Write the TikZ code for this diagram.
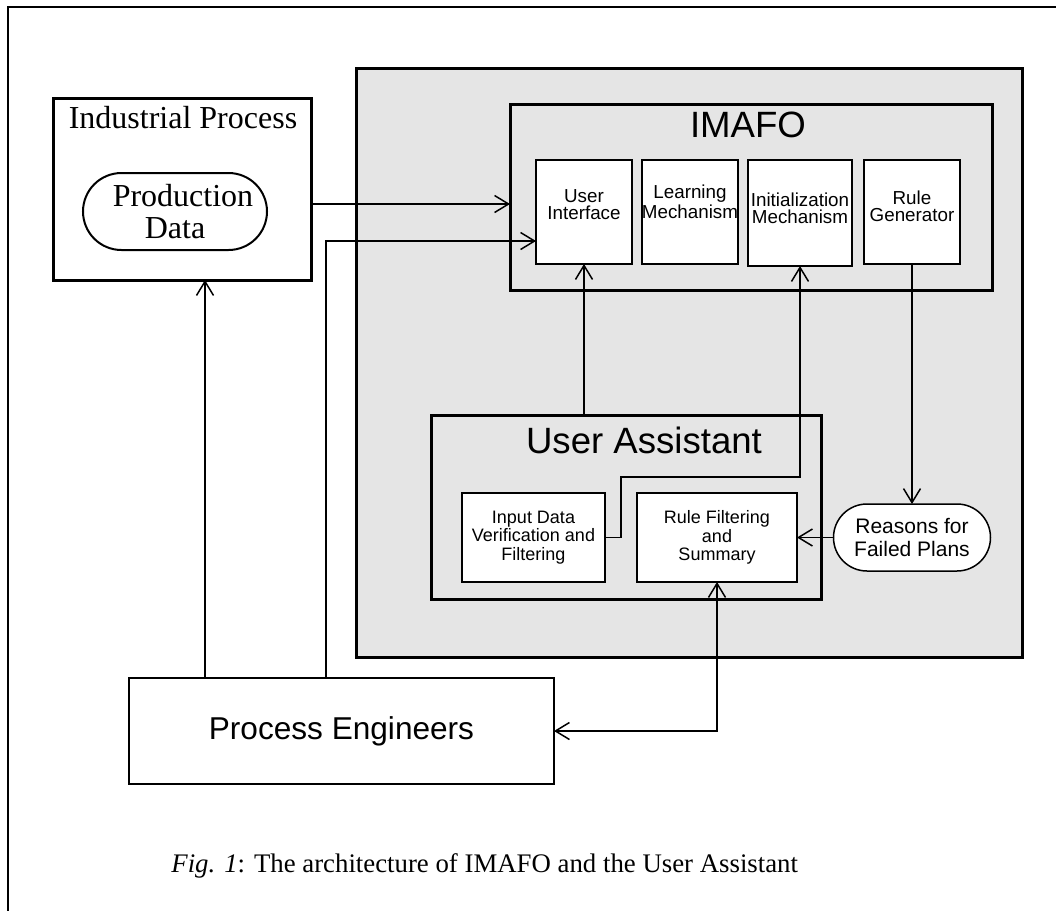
\documentclass[tikz,border=0pt]{standalone}
\usepackage{fontspec}
\setmainfont{Liberation Serif}
\setsansfont{Liberation Sans}
\usetikzlibrary{arrows.meta,shapes.misc}
\newcommand{\Unit}{0.5pt}
\newcommand{\Thick}{1.5pt}
\newcommand{\Thin}{0.75pt}
\definecolor{panel}{HTML}{E5E5E5}
\definecolor{ink}{HTML}{000000}

\tikzset{
  sz/.style 2 args={minimum width=#1*\Unit, minimum height=#2*\Unit},
  thickbox/.style={draw=ink, line width=\Thick, inner sep=0pt, outer sep=0pt},
  modbox/.style={draw=ink, fill=white, line width=\Thin, inner sep=0pt, outer sep=0pt},
  pill/.style={rounded rectangle, draw=ink, fill=white, inner sep=0pt, outer sep=0pt},
  modtxt/.style={font=\sffamily\fontsize{9.4}{8.4}\selectfont, align=center, inner sep=0pt},
  subtxt/.style={font=\sffamily\fontsize{9}{9.3}\selectfont, align=center, inner sep=0pt},
  bigtxt/.style={font=\sffamily\fontsize{18.3}{20}\selectfont, inner sep=0pt},
  flow/.style={ink, line width=\Thin, -{Straight Barb[length=7pt,width=8.5pt]}},
  twoway/.style={ink, line width=\Thin, {Straight Barb[length=7pt,width=8.5pt]}-{Straight Barb[length=7pt,width=8.5pt]}},
}

\begin{document}
\begin{tikzpicture}[x=\Unit, y=-\Unit, line join=miter]

  \useasboundingbox (0,0) rectangle (1056,911);
  % ---- page frame (cut off at right and bottom) ----------------------------
  \draw[ink, line width=1pt] (8,911) -- (8,7) -- (1056,7);

  % ---- industrial process ---------------------------------------------------
  \node[thickbox, sz={258}{182}] (industrial) at (182,189) {};
  \node[font=\fontsize{16}{16}\selectfont, inner sep=0pt] (indtitle) at (183,118) {Industrial Process};
  \node[pill, line width=1pt, sz={184}{77}, align=center,
        font=\fontsize{16}{16}\selectfont] (proddata) at (175,211.5) {\hspace*{8pt}Production\\Data};

  % ---- the shaded system ----------------------------------------------------
  \node[thickbox, fill=panel, sz={666}{589}] (system) at (689,362.5) {};

  % IMAFO and its four modules
  \node[thickbox, sz={482}{186}] (imafo) at (751,197) {};
  \node[bigtxt] (imafotitle) at (748,125) {IMAFO};
  \node[modbox, sz={96}{104}]  (ui)   at (584,212) {};
  \node[modbox, sz={96}{104}]  (lm)   at (690,212) {};
  \node[modbox, sz={104}{106}] (init) at (800,213) {};
  \node[modbox, sz={96}{104}]  (rg)   at (912,212) {};
  \node[modtxt] at (584,205) {User\\Interface};
  \node[modtxt] at (690,202) {Learning\\Mechanism};
  \node[modtxt] at (800,208) {Initialization\\Mechanism};
  \node[modtxt] at (912,206) {Rule\\Generator};

  % User Assistant
  \node[thickbox, sz={390}{184}] (ua) at (626,507) {};
  \node[bigtxt] (uatitle) at (644,440) {User Assistant};
  \node[modbox, sz={143}{89}, subtxt] (inp) at (533.5,537.5) {Input Data\\Verification and\\Filtering};
  \node[modbox, sz={160}{89}, subtxt] (rfs) at (717,537.5) {Rule Filtering\\and\\Summary};

  \node[pill, line width=\Thin, sz={157}{67}, align=center,
        font=\sffamily\fontsize{10.5}{11.5}\selectfont] (reasons) at (912,537.5) {Reasons for\\Failed Plans};

  % ---- process engineers ----------------------------------------------------
  \node[modbox, sz={425}{106}, font=\sffamily\fontsize{15.8}{16}\selectfont] (eng) at (341.5,731) {Process Engineers};

  % ---- connectors -----------------------------------------------------------
  \draw[flow] (industrial.east |- 0,204) -- (imafo.west |- 0,204);
  \draw[flow] (eng.north -| 326,0) |- (ui.west |- 0,241);
  \draw[flow] (eng.north -| 205,0) -- (industrial.south -| 205,0);
  \draw[flow] (ua.north -| ui.south) -- (ui.south);
  \draw[flow] (inp.east) -| (621,477) -| (init.south);
  \draw[flow] (rg.south) -- (reasons.north);
  \draw[flow] (reasons.west) -- (rfs.east);
  \draw[twoway] (rfs.south) |- (eng.east);

  % ---- caption --------------------------------------------------------------
  \node[anchor=west, inner sep=0pt, font=\fontsize{13.4}{14}\selectfont] (caption) at (171,866)
    {\textit{Fig. 1}: The architecture of IMAFO and the User Assistant};

\end{tikzpicture}
\end{document}
